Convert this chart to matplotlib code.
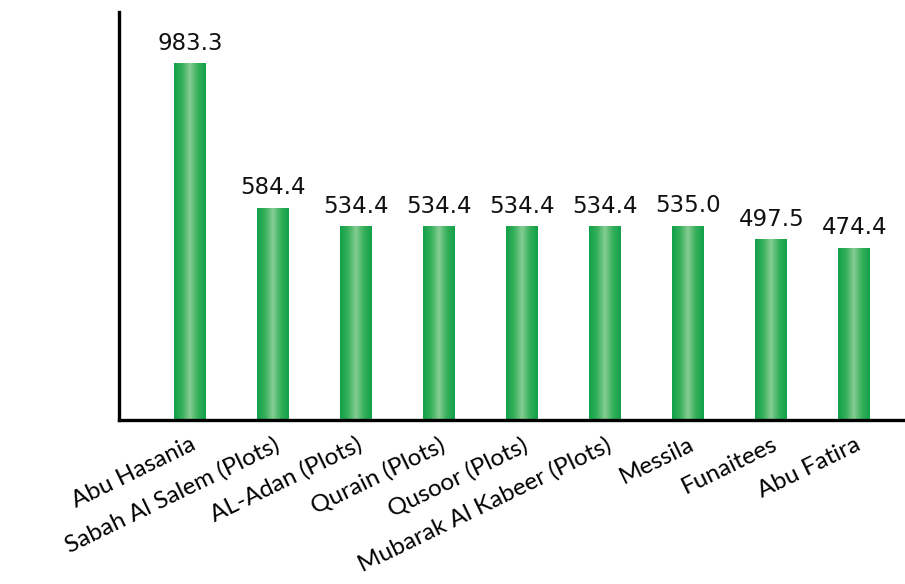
import numpy as np
import matplotlib
matplotlib.use("Agg")
import matplotlib.pyplot as plt
from matplotlib.colors import LinearSegmentedColormap

categories = ["Abu Hasania", "Sabah Al Salem (Plots)", "AL-Adan (Plots)",
              "Qurain (Plots)", "Qusoor (Plots)", "Mubarak Al Kabeer (Plots)",
              "Messila", "Funaitees", "Abu Fatira"]
values = [983.3, 584.4, 534.4, 534.4, 534.4, 534.4, 535.0, 497.5, 474.4]
value_labels = ["983.3", "584.4", "534.4", "534.4", "534.4", "534.4",
                "535.0", "497.5", "474.4"]

fig = plt.figure(figsize=(9.05, 5.84), dpi=100)
ax = fig.add_axes([0.1315, 0.281, 0.8685, 0.698])

x = np.arange(len(categories))
width = 0.385

# horizontal green gradient: darker at the edges, lighter in the middle
cmap = LinearSegmentedColormap.from_list(
    "bar_green", ["#12a04a", "#34b05a", "#86cd93", "#34b05a", "#12a04a"])
grad = np.linspace(0, 1, 256).reshape(1, -1)

bars = ax.bar(x, values, width=width, color="none", edgecolor="none")
for b, lab in zip(bars, value_labels):
    x0, w, h = b.get_x(), b.get_width(), b.get_height()
    ax.imshow(grad, cmap=cmap, aspect="auto",
              extent=(x0, x0 + w, 0, h), zorder=2, interpolation="bicubic")
    ax.text(x0 + w / 2, h + 24, lab, ha="center", va="bottom",
            fontsize=16.5, family="DejaVu Sans", color="#111111")

ax.set_xlim(-0.855, 8.61)
ax.set_ylim(0, 1125)

ax.set_xticks(x)
ax.set_xticklabels(categories, rotation=26, ha="right", rotation_mode="anchor",
                   fontsize=17.5, family="Lato")
ax.set_yticks([])
ax.tick_params(axis="x", length=0, pad=10)

for side in ("top", "right"):
    ax.spines[side].set_visible(False)
for side in ("left", "bottom"):
    ax.spines[side].set_linewidth(2.4)
    ax.spines[side].set_color("black")

fig.savefig("out.png", dpi=100)
